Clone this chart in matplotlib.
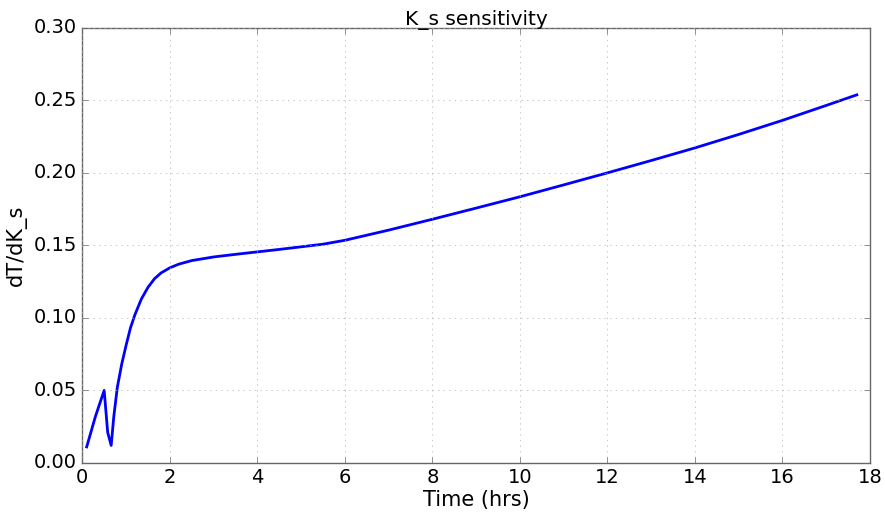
import numpy as np
import matplotlib
matplotlib.use('Agg')
import matplotlib.pyplot as plt

# values
time_hrs = [0.1, 0.3, 0.5, 0.58, 0.66, 0.72, 0.8, 0.9, 1.0, 1.1, 1.2, 1.35, 1.5, 1.65,
            1.8, 2.0, 2.2, 2.5, 3.0, 3.5, 4.0, 4.5, 5.0, 5.5, 6.0, 7.0, 8.0, 9.0,
            10.0, 11.0, 12.0, 13.0, 14.0, 15.0, 16.0, 17.0, 17.7]
dT_dKs = [0.011, 0.032, 0.050, 0.021, 0.012, 0.032, 0.052, 0.068, 0.081, 0.093, 0.102,
          0.113, 0.121, 0.127, 0.131, 0.1345, 0.137, 0.1395, 0.1420, 0.1438, 0.1455,
          0.1472, 0.1490, 0.1508, 0.1535, 0.1605, 0.1680, 0.1757, 0.1835, 0.1917,
          0.2000, 0.2085, 0.2172, 0.2265, 0.2362, 0.2465, 0.2538]

plt.style.use('classic')
fig = plt.figure(figsize=(8.85, 5.16), dpi=100)
ax = fig.add_axes([0.093, 0.103, 0.89, 0.843])

ax.plot(time_hrs, dT_dKs, color='b', linewidth=2)
ax.set_xlim(0, 18)
ax.set_ylim(0, 0.30)
ax.set_xticks(range(0, 19, 2))
ax.set_yticks(np.arange(0, 0.31, 0.05))
ax.grid(True, color='#b0b0b0', linestyle=':')
for s in ax.spines.values():
    s.set_edgecolor('0.4')
ax.set_title('K_s sensitivity', fontsize=14.5, pad=2)
ax.set_xlabel('Time (hrs)', fontsize=15, labelpad=2)
ax.set_ylabel('dT/dK_s', fontsize=15)
ax.tick_params(labelsize=14, color='0.4')

fig.savefig('out.png', dpi=100)
